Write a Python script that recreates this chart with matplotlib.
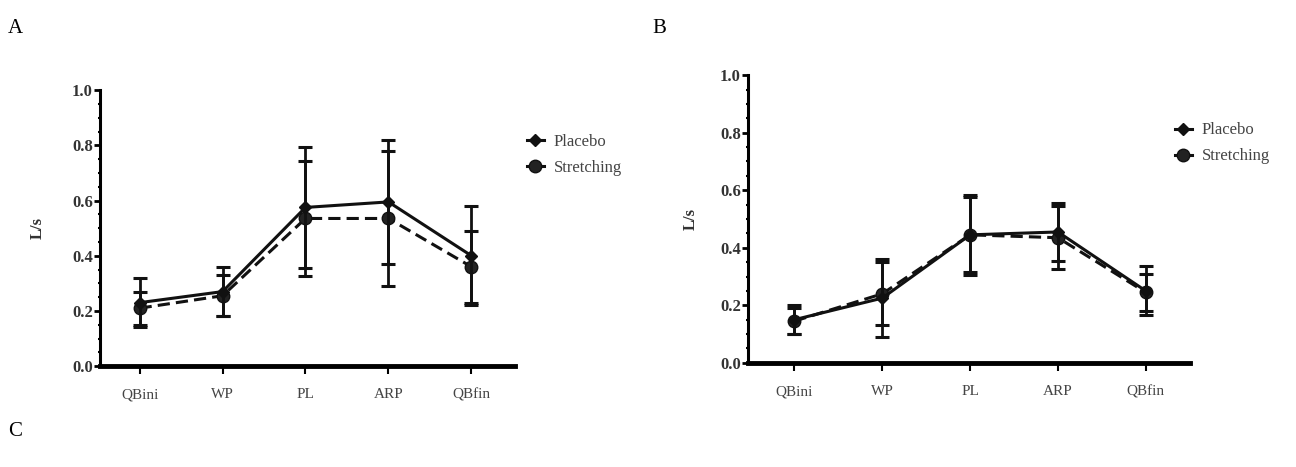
import numpy as np
import matplotlib.pyplot as plt
from matplotlib.ticker import MultipleLocator
from matplotlib.lines import Line2D

# Données
phases_a = ["QBini", "WP", "PL", "ARP", "QBfin"]
phases_b = ["QBini", "WP", "PL", "ARP", "QBfin"]

placebo_a = [0.23, 0.27, 0.575, 0.595, 0.40]
placebo_a_err = [0.09, 0.09, 0.22, 0.225, 0.18]
stretch_a = [0.21, 0.255, 0.535, 0.535, 0.36]
stretch_a_err = [0.06, 0.075, 0.21, 0.245, 0.13]

placebo_b = [0.15, 0.225, 0.445, 0.455, 0.25]
placebo_b_err = [0.05, 0.135, 0.14, 0.10, 0.085]
stretch_b = [0.145, 0.24, 0.445, 0.435, 0.245]
stretch_b_err = [0.045, 0.11, 0.13, 0.11, 0.065]

serif = ["Liberation Serif", "DejaVu Serif"]

fig = plt.figure(figsize=(12.96, 4.67), dpi=100)


def panneau(rect, labels, plac, plac_err, stre, stre_err, xlim, leg_pos, ylab_x):
    ax = fig.add_axes(rect)
    x = np.arange(len(labels))
    ax.errorbar(x, plac, yerr=plac_err, color="#111111", lw=2.2, marker="D",
                ms=6, capsize=5, capthick=2.2, elinewidth=2.0, zorder=3)
    ax.errorbar(x, stre, yerr=stre_err, color="#111111", lw=2.2, ls=(0, (4, 2)),
                marker="o", ms=9, mfc="#222222", capsize=5, capthick=2.2,
                elinewidth=2.0, zorder=2)
    ax.set_xlim(*xlim)
    ax.set_ylim(0, 1.0)
    ax.set_xticks(x)
    ax.set_xticklabels(labels, fontsize=11, family=serif, color="#444444")
    ax.set_yticks([0, 0.2, 0.4, 0.6, 0.8, 1.0])
    ax.set_yticklabels(["0.0", "0.2", "0.4", "0.6", "0.8", "1.0"], fontsize=12,
                       family=serif, fontweight="bold", color="#333333")
    ax.yaxis.set_minor_locator(MultipleLocator(0.05))
    ax.tick_params(axis="y", which="major", length=4, width=2, pad=1)
    ax.tick_params(axis="y", which="minor", length=3, width=1.5, direction="inout")
    ax.tick_params(axis="x", length=6, width=1.5, pad=10)
    ax.spines["top"].set_visible(False)
    ax.spines["right"].set_visible(False)
    ax.spines["left"].set_linewidth(2.2)
    ax.spines["bottom"].set_linewidth(3.5)
    ax.set_ylabel("L/s", fontsize=12, family=serif, fontweight="bold",
                  color="#333333")
    ax.yaxis.set_label_coords(ylab_x, 0.5)
    poignees = [
        Line2D([], [], color="#111111", lw=2.2, marker="D", ms=6),
        Line2D([], [], color="#111111", lw=2.2, marker="o", ms=9, mfc="#222222"),
    ]
    leg = ax.legend(poignees, ["Placebo", "Stretching"], loc="upper left",
                    bbox_to_anchor=leg_pos, bbox_transform=fig.transFigure,
                    frameon=False, prop={"family": serif, "size": 12},
                    handlelength=1.0, handletextpad=0.6, labelspacing=0.6)
    for t in leg.get_texts():
        t.set_color("#444444")
    return ax


panneau([0.077, 0.216, 0.32, 0.591], phases_a, placebo_a, placebo_a_err,
        stretch_a, stretch_a_err, (-0.48, 4.52), (0.395, 0.745), -0.13)
panneau([0.577, 0.223, 0.341, 0.616], phases_b, placebo_b, placebo_b_err,
        stretch_b, stretch_b_err, (-0.53, 4.5), (0.895, 0.770), -0.11)

fig.text(0.006, 0.94, "A", fontsize=15, family=serif, va="center")
fig.text(0.503, 0.94, "B", fontsize=15, family=serif, va="center")
fig.text(0.006, 0.075, "C", fontsize=15, family=serif, va="center")

plt.savefig("out.png", dpi=100)
